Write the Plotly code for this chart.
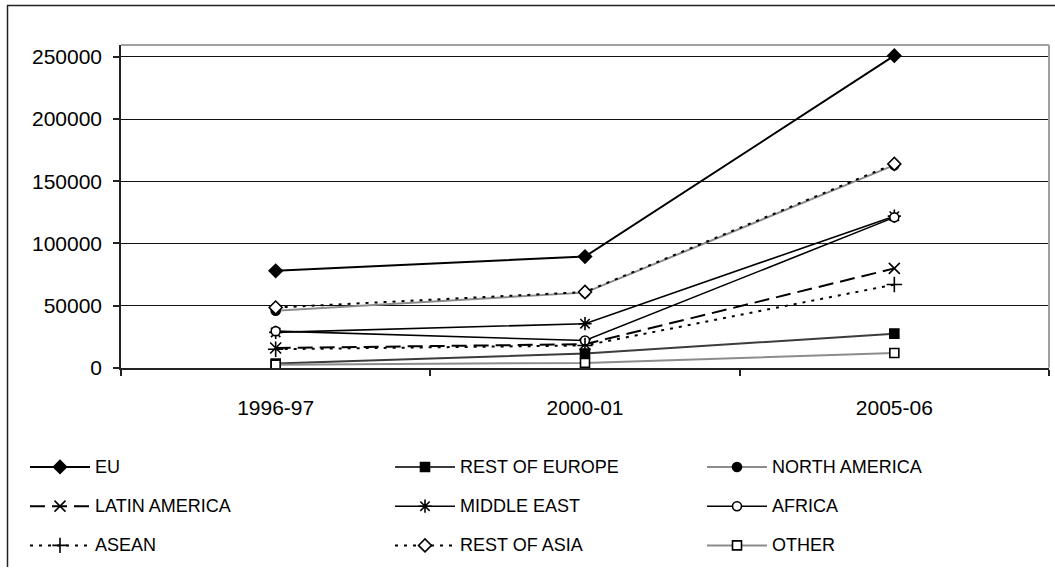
import plotly.graph_objects as go

# Periods on the category axis
categories = ["1996-97", "2000-01", "2005-06"]

# Values per region
eu = [78000, 89500, 251000]
rest_of_europe = [3500, 11500, 27500]
north_america = [46000, 60500, 163000]
latin_america = [16000, 19000, 80000]
middle_east = [28500, 35500, 122000]
africa = [29500, 22000, 121000]
asean = [15000, 18000, 67000]
rest_of_asia = [48500, 61000, 164000]
other = [2500, 4000, 12000]

y_ticks = [0, 50000, 100000, 150000, 200000, 250000]

W, H = 1055, 578
FONT = "Liberation Sans, Arial, sans-serif"

# name, values, line colour, dash, width, symbol, marker fill, marker size
series = [
    ("EU", eu, "#000000", "solid", 2, "diamond", "#000000", 10),
    ("REST OF EUROPE", rest_of_europe, "#3c3c3c", "solid", 2, "square", "#000000", 9),
    ("NORTH AMERICA", north_america, "#8c8c8c", "solid", 2, "circle", "#000000", 9),
    ("LATIN AMERICA", latin_america, "#000000", "15px,7px", 2, "x-thin-open", "#000000", 11),
    ("MIDDLE EAST", middle_east, "#000000", "solid", 1.6, "asterisk-open", "#000000", 11),
    ("AFRICA", africa, "#000000", "solid", 1.6, "circle", "#ffffff", 9),
    ("ASEAN", asean, "#000000", "3px,6px", 2, "cross-thin-open", "#000000", 11),
    ("REST OF ASIA", rest_of_asia, "#000000", "3px,6px", 2, "diamond", "#ffffff", 10),
    ("OTHER", other, "#8c8c8c", "solid", 2, "square", "#ffffff", 9),
]

fig = go.Figure()

for name, vals, col, dash, lw, sym, fill, ms in series:
    fig.add_trace(go.Scatter(
        x=categories, y=vals, name=name, mode="lines+markers",
        line=dict(color=col, width=lw, dash=dash),
        marker=dict(symbol=sym, size=ms, color=fill,
                    line=dict(color="#000000", width=1.6)),
        cliponaxis=False, showlegend=False,
        xaxis="x", yaxis="y",
    ))

# Legend drawn as a 3x3 grid of line samples with centred markers
col_x = [30, 395, 707]
row_y = [476, 516, 556]
sample_len = 60
annotations = []
for i, (name, vals, col, dash, lw, sym, fill, ms) in enumerate(series):
    r, c = divmod(i, 3)
    x0 = col_x[c]
    yy = row_y[r]
    fig.add_trace(go.Scatter(
        x=[x0, x0 + sample_len / 2, x0 + sample_len],
        y=[yy, yy, yy],
        mode="lines+markers",
        line=dict(color=col, width=lw, dash=dash),
        marker=dict(symbol=sym, size=ms, color=fill, opacity=[0, 1, 0],
                    line=dict(color="#000000", width=1.6)),
        showlegend=False, hoverinfo="skip", cliponaxis=False,
        xaxis="x2", yaxis="y2",
    ))
    annotations.append(dict(
        x=x0 + sample_len + 3, y=yy, xref="x2", yref="y2",
        text=name, showarrow=False, xanchor="left", yanchor="middle",
        font=dict(family=FONT, size=18, color="#000000"),
    ))

px0, px1 = 121, 1049   # plot area left/right
py0, py1 = 46, 375     # plot area top/bottom

shapes = [
    # outer chart frame
    dict(type="line", xref="paper", yref="paper", x0=7 / W, x1=1.0,
         y0=1 - 5.5 / H, y1=1 - 5.5 / H, line=dict(color="#222222", width=1.5)),
    dict(type="line", xref="paper", yref="paper", x0=7.5 / W, x1=7.5 / W,
         y0=0, y1=1 - 5.5 / H, line=dict(color="#222222", width=1.5)),
    # plot area border (top and right)
    dict(type="line", xref="paper", yref="paper", x0=px0 / W, x1=px1 / W,
         y0=1 - py0 / H, y1=1 - py0 / H, line=dict(color="#a0a0a0", width=2)),
    dict(type="line", xref="paper", yref="paper", x0=px1 / W, x1=px1 / W,
         y0=1 - py0 / H, y1=1 - py1 / H, line=dict(color="#a0a0a0", width=2)),
]

fig.update_layout(
    width=W, height=H,
    margin=dict(l=0, r=0, t=0, b=0),
    paper_bgcolor="#ffffff", plot_bgcolor="rgba(0,0,0,0)",
    font=dict(family=FONT, color="#000000"),
    showlegend=False,
    xaxis=dict(
        type="category", domain=[px0 / W, px1 / W], range=[-0.5, 2.5],
        tickson="boundaries", ticks="outside", ticklen=6, tickwidth=1.5,
        tickcolor="#222222", showline=True, linecolor="#222222", linewidth=2,
        showgrid=False, zeroline=False, fixedrange=True,
        tickfont=dict(family=FONT, size=21, color="#000000"),
        ticklabelstandoff=20, anchor="y",
    ),
    yaxis=dict(
        domain=[1 - py1 / H, 1 - py0 / H], range=[0, 259500],
        tickmode="array", tickvals=y_ticks, tickformat="d",
        ticks="outside", ticklen=6, tickwidth=1.5, tickcolor="#222222",
        showline=True, linecolor="#222222", linewidth=1.5,
        showgrid=True, gridcolor="#111111", gridwidth=1, zeroline=False,
        fixedrange=True, anchor="x",
        tickfont=dict(family=FONT, size=21, color="#000000"),
        ticklabelstandoff=7,
    ),
    xaxis2=dict(domain=[0, 1], range=[0, W], visible=False, fixedrange=True,
                anchor="y2", showgrid=False, zeroline=False),
    yaxis2=dict(domain=[0, 1], range=[H, 0], visible=False, fixedrange=True,
                anchor="x2", showgrid=False, zeroline=False),
    shapes=shapes,
    annotations=annotations,
)

fig.write_html("out.html")
